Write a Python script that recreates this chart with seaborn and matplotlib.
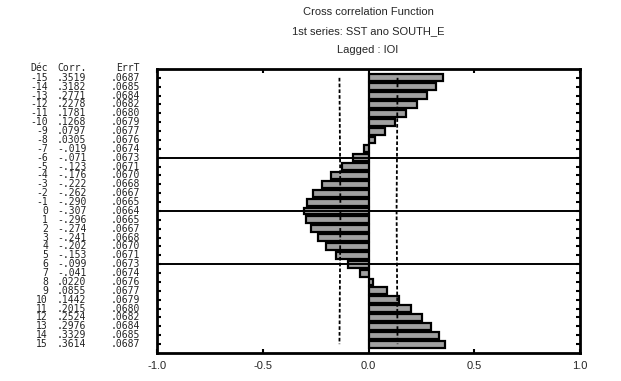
import numpy as np
import pandas as pd
import matplotlib.pyplot as plt
from matplotlib.transforms import blended_transform_factory
import seaborn as sns

# valeurs
lags = list(range(-15, 16))
corr = [.3519, .3182, .2771, .2278, .1781, .1268, .0797, .0305, -.019, -.071,
        -.123, -.176, -.222, -.262, -.290, -.307, -.296, -.274, -.241, -.202,
        -.153, -.099, -.041, .0220, .0855, .1442, .2015, .2524, .2976, .3329, .3614]
errt = [.0687, .0685, .0684, .0682, .0680, .0679, .0677, .0676, .0674, .0673,
        .0671, .0670, .0668, .0667, .0665, .0664, .0665, .0667, .0668, .0670,
        .0671, .0673, .0674, .0676, .0677, .0679, .0680, .0682, .0684, .0685, .0687]
corr_txt = ['.3519', '.3182', '.2771', '.2278', '.1781', '.1268', '.0797', '.0305', '-.019', '-.071',
            '-.123', '-.176', '-.222', '-.262', '-.290', '-.307', '-.296', '-.274', '-.241', '-.202',
            '-.153', '-.099', '-.041', '.0220', '.0855', '.1442', '.2015', '.2524', '.2976', '.3329', '.3614']
xticks = [-1.0, -0.5, 0.0, 0.5, 1.0]

df = pd.DataFrame({'lag': lags, 'corr': corr, 'errt': errt})

sns.set_style('white')
plt.rcParams['font.family'] = ['Liberation Sans', 'DejaVu Sans']

fig = plt.figure(figsize=(6.21, 3.81), dpi=100)
ax = fig.add_axes([0.2528, 0.0735, 0.6812, 0.7455])

sns.barplot(data=df, x='corr', y='lag', orient='y', native_scale=True, width=0.78,
            color='#a0a0a0', saturation=1, edgecolor='black', linewidth=1.6, ax=ax)

# limites de confiance (2 * ErrT)
ax.plot(2 * df['errt'], df['lag'], color='black', lw=1.3, ls=(0, (2, 1.2)))
ax.plot(-2 * df['errt'], df['lag'], color='black', lw=1.3, ls=(0, (2, 1.2)))

for h in [-6, 0, 6]:
    ax.axhline(h, color='black', lw=1.4)

ax.set_xlim(-1, 1)
ax.set_ylim(16, -16)
ax.set_xticks(xticks)
ax.set_xticklabels([f'{v:.1f}' for v in xticks], fontsize=8)
ax.set_yticks(lags)
ax.set_yticklabels([])
ax.set_xlabel('')
ax.set_ylabel('')
ax.tick_params(axis='both', direction='in', length=3, width=1.5, color='black',
               top=True, right=True, left=True, bottom=True, pad=6)
for s in ax.spines.values():
    s.set_color('black')
    s.set_linewidth(2)

# colonnes de texte à gauche
tr = blended_transform_factory(fig.transFigure, ax.transData)
mono = dict(family='DejaVu Sans Mono', fontsize=7, transform=tr, va='center',
            color='#222222', clip_on=False)
ax.text(48 / 621, -16.1, 'Déc', ha='right', **mono)
ax.text(57 / 621, -16.1, 'Corr.', ha='left', **mono)
ax.text(140 / 621, -16.1, 'ErrT', ha='right', **mono)
for lg, c, e in zip(lags, corr_txt, errt):
    ax.text(48 / 621, lg, str(lg), ha='right', **mono)
    ax.text(57 / 621, lg, c, ha='left', **mono)
    ax.text(140 / 621, lg, f'{e:.4f}'[1:], ha='right', **mono)

cx = 368 / 621
fig.text(cx, 1 - 12 / 381, 'Cross correlation Function', ha='center', va='center', fontsize=8)
fig.text(cx, 1 - 31 / 381, '1st series: SST ano SOUTH_E', ha='center', va='center', fontsize=8)
fig.text(cx, 1 - 50 / 381, 'Lagged : IOI', ha='center', va='center', fontsize=8)

fig.savefig('out.png', dpi=100)
